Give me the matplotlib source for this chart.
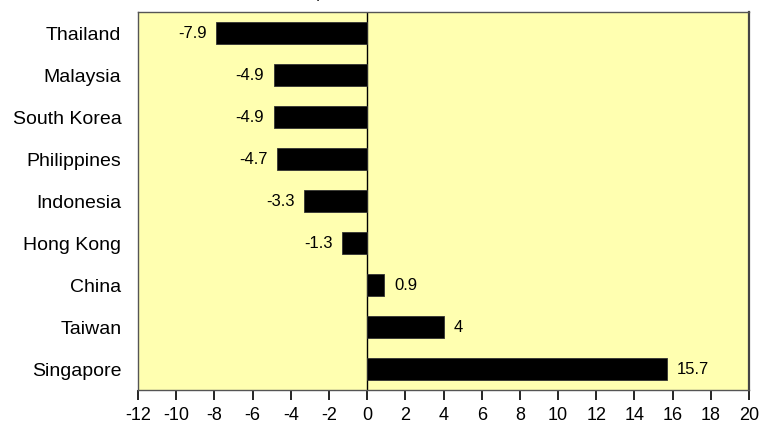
import matplotlib.pyplot as plt

plt.rcParams['font.family'] = ['Liberation Sans', 'DejaVu Sans']
plt.rcParams['axes.unicode_minus'] = False

countries = ["Thailand", "Malaysia", "South Korea", "Philippines", "Indonesia",
             "Hong Kong", "China", "Taiwan", "Singapore"]
values = [-7.9, -4.9, -4.9, -4.7, -3.3, -1.3, 0.9, 4, 15.7]
labels = ["-7.9", "-4.9", "-4.9", "-4.7", "-3.3", "-1.3", "0.9", "4", "15.7"]
xticks = list(range(-12, 21, 2))
title = "Current account as per cent of GDP"

W, H = 761, 426
fig = plt.figure(figsize=(W / 100, H / 100), dpi=100)
ax = fig.add_axes([138 / W, 1 - 390 / H, 611 / W, 378 / H])
ax.set_facecolor('#ffffb0')

ypos = list(range(len(countries)))
ax.barh(ypos, values, height=0.52, color='black', edgecolor='#333333', linewidth=0.6, zorder=3)
ax.axvline(0, color='black', linewidth=1, zorder=2)

for y, v, s in zip(ypos, values, labels):
    if v < 0:
        ax.annotate(s, (v, y), xytext=(-7, 0), textcoords='offset points',
                    ha='right', va='center', fontsize=12)
    else:
        ax.annotate(s, (v, y), xytext=(7, 0), textcoords='offset points',
                    ha='left', va='center', fontsize=12)

ax.set_xlim(-12, 20)
ax.set_ylim(len(countries) - 0.5, -0.5)
ax.set_xticks(xticks)
ax.set_xticklabels([str(t) for t in xticks])
ax.set_yticks(ypos)
ax.set_yticklabels(countries)
ax.tick_params(axis='x', direction='out', length=7, width=1.2, labelsize=13, pad=5)
ax.tick_params(axis='y', length=0, labelsize=14, pad=12)

for side in ['left', 'top', 'bottom']:
    ax.spines[side].set_color('#555555')
    ax.spines[side].set_linewidth(1)
ax.spines['right'].set_color('#444444')
ax.spines['right'].set_linewidth(1.6)

# title runs off the top of the canvas; line up the "p" of "per" at x=319
renderer = fig.canvas.get_renderer()
probe = fig.text(0, 0.5, title[:title.index("per")], fontsize=11)
offset = probe.get_window_extent(renderer).width
probe.remove()
fig.text((319 - offset - 3) / W, 1 + 2 / H, title, ha='left', va='baseline', fontsize=11)

fig.savefig('out.png', dpi=100)
